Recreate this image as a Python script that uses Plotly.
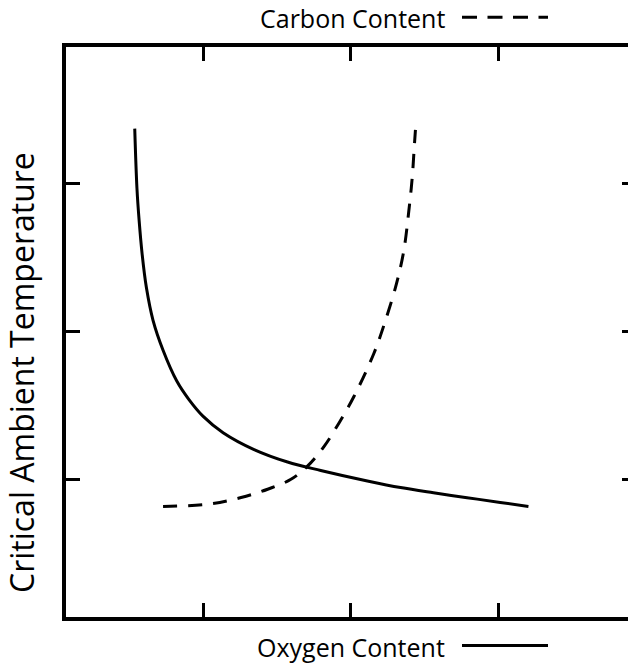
import plotly.graph_objects as go

# Oxygen content curve (solid)
oxygen_x = [0.536, 0.551, 0.566, 0.586, 0.615, 0.660, 0.728, 0.821, 0.905, 1.000, 1.135,
            1.345, 1.572, 1.797, 2.113, 2.338, 2.561, 2.789, 3.014, 3.205]
oxygen_y = [3.369, 2.966, 2.745, 2.523, 2.295, 2.074, 1.872, 1.664, 1.537, 1.425, 1.315,
            1.201, 1.117, 1.060, 0.989, 0.944, 0.909, 0.876, 0.844, 0.817]

# Carbon content curve (dashed)
carbon_x = [0.728, 1.032, 1.257, 1.437, 1.595, 1.707, 1.820, 1.921, 2.022, 2.157, 2.230,
            2.311, 2.360, 2.394, 2.417, 2.432, 2.439]
carbon_y = [0.817, 0.832, 0.877, 0.933, 1.000, 1.089, 1.223, 1.381, 1.559, 1.850, 2.055,
            2.323, 2.544, 2.812, 3.036, 3.260, 3.360]

tick_vals = [1, 2, 3]
x_range = [0.07, 3.88]
y_range = [0.07, 3.92]

y_title = "Critical Ambient Temperature"
x_label = "Oxygen Content"
top_label = "Carbon Content"

FONT = "Open Sans"
LW = 3

fig = go.Figure()
fig.add_trace(go.Scatter(x=oxygen_x, y=oxygen_y, mode="lines", line_shape="spline",
                         line=dict(color="black", width=3), showlegend=False))
fig.add_trace(go.Scatter(x=carbon_x, y=carbon_y, mode="lines", line_shape="spline",
                         line=dict(color="black", width=3, dash="14px,11px"),
                         showlegend=False))
# empty trace so the right-hand tick axis is laid out
fig.add_trace(go.Scatter(x=[], y=[], yaxis="y2", showlegend=False, hoverinfo="skip"))

fig.update_layout(
    width=628, height=668,
    margin=dict(l=66, r=0, t=47, b=51),
    paper_bgcolor="white", plot_bgcolor="white",
    xaxis=dict(range=x_range, tickvals=tick_vals, showticklabels=False,
               ticks="inside", ticklen=14, tickwidth=LW, tickcolor="black",
               showline=True, linewidth=3.5, linecolor="black", mirror="ticks",
               showgrid=False, zeroline=False),
    yaxis=dict(range=y_range, tickvals=tick_vals, showticklabels=False,
               ticks="inside", ticklen=14, tickwidth=LW, tickcolor="black",
               showline=True, linewidth=3.5, linecolor="black", mirror=False,
               showgrid=False, zeroline=False),
    yaxis2=dict(range=y_range, tickvals=tick_vals, showticklabels=False,
                overlaying="y", side="right", anchor="x",
                ticks="inside", ticklen=6, tickwidth=LW, tickcolor="black",
                showline=False, showgrid=False, zeroline=False),
    font=dict(family=FONT, color="black"),
)

# text labels with their line-style keys
fig.add_annotation(text=x_label, xref="paper", yref="paper", x=(447 - 66) / 562,
                   y=-(651 - 621) / 570, xanchor="right", yanchor="middle",
                   showarrow=False, font=dict(family=FONT, size=25, color="black"))
fig.add_annotation(text=top_label, xref="paper", yref="paper", x=(447 - 66) / 562,
                   y=1 + (47 - 18) / 570, xanchor="right", yanchor="middle",
                   showarrow=False, font=dict(family=FONT, size=25, color="black"))
fig.add_annotation(text=y_title, xref="paper", yref="paper", x=-(66 - 21) / 562,
                   y=(621 - 377) / 570, xanchor="center", yanchor="middle",
                   textangle=-90, showarrow=False,
                   font=dict(family=FONT, size=32, color="black"))

fig.add_shape(type="line", xref="paper", yref="paper",
              x0=(462 - 66) / 562, x1=(548 - 66) / 562,
              y0=-(649.5 - 621) / 570, y1=-(649.5 - 621) / 570,
              line=dict(color="black", width=3))
fig.add_shape(type="line", xref="paper", yref="paper",
              x0=(462 - 66) / 562, x1=(548 - 66) / 562,
              y0=1 + (47 - 17.3) / 570, y1=1 + (47 - 17.3) / 570,
              line=dict(color="black", width=3, dash="15px,10.5px"))

fig.write_html("out.html")
